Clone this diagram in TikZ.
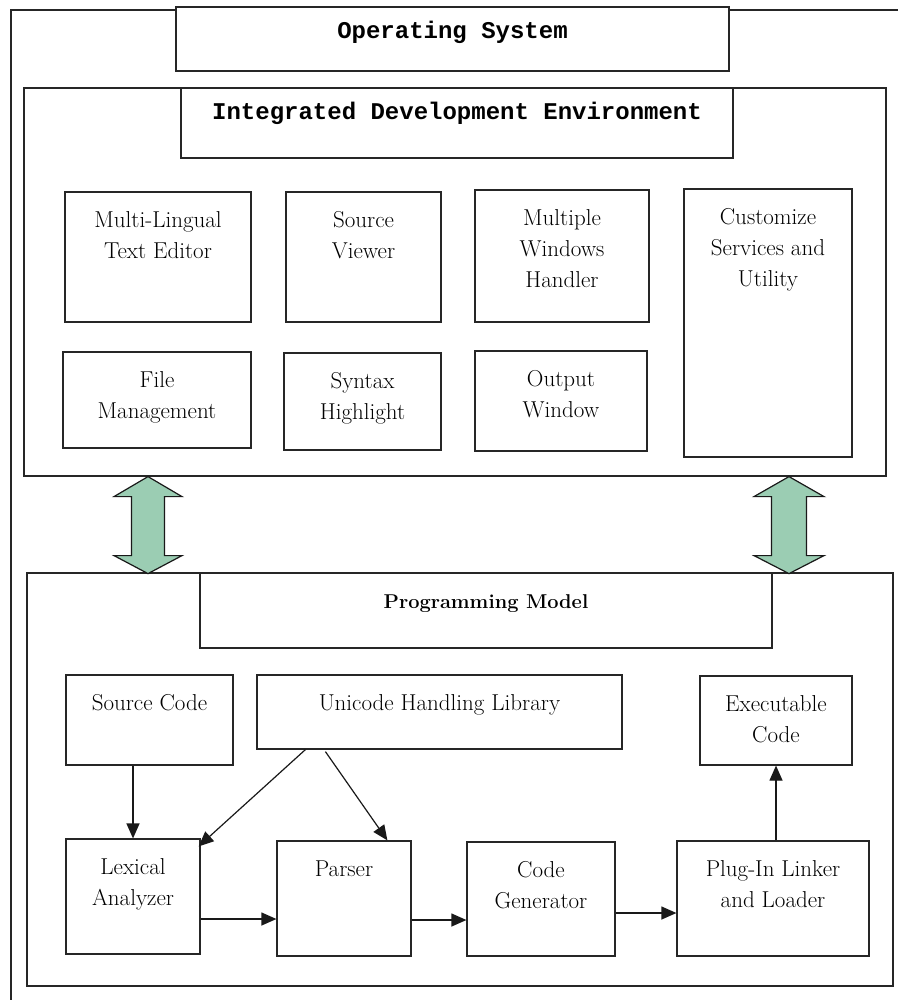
\documentclass[tikz,border=0pt]{standalone}
\usepackage{fontspec}
\newfontfamily\titlemono{Liberation Mono}
\usetikzlibrary{arrows.meta,calc}
\definecolor{arrowgreen}{HTML}{9BCDB3}
\begin{document}
\begin{tikzpicture}[x=1pt,y=-1pt,
  box/.style={draw=black!85,line width=1.2pt,fill=white,inner sep=0pt,rectangle},
  sz/.style 2 args={minimum width=#1pt,minimum height=#2pt},
  txt/.style={font=\fontsize{23}{31}\selectfont,align=center,inner sep=0pt,anchor=north},
  ttl/.style={font=\titlemono\bfseries\fontsize{24}{28}\selectfont,inner sep=0pt,anchor=base},
  pmttl/.style={font=\bfseries\fontsize{20}{24}\selectfont,inner sep=0pt,anchor=base},
  link/.style={line width=1.2pt,draw=black!90,-{Triangle[length=15pt,width=13pt]}},
  dbl/.style={draw=black!90,line width=1.2pt,fill=arrowgreen,line join=miter}]
\useasboundingbox (0,0) rectangle (898,1000);
% outer frame (cut off at right and bottom)
\draw[line width=1.2pt,black!85] (11,1000) -- (11,10) -- (898,10);

% Operating system
\node[box,sz={553}{64}] (os) at (452.5,39) {};
\node[ttl] (ost) at ([yshift=-32pt]os.north) {Operating System};

% IDE
\node[box,sz={862}{388}] (ide) at (455,282) {};
\node[box,sz={552}{70}] (idet) at (457,123) {};
\node[ttl] (idett) at ([yshift=-32pt]idet.north) {Integrated Development Environment};

\node[box,sz={186}{130}] (ml) at (158,257) {};
\node[txt] (mlt) at ([yshift=-20pt]ml.north) {Multi-Lingual\\Text Editor};
\node[box,sz={155}{130}] (sv) at (363.5,257) {};
\node[txt] (svt) at ([yshift=-20pt]sv.north) {Source\\Viewer};
\node[box,sz={174}{132}] (mw) at (562,256) {};
\node[txt] (mwt) at ([yshift=-20pt]mw.north) {Multiple\\Windows\\Handler};
\node[box,sz={168}{268}] (cs) at (768,323) {};
\node[txt] (cst) at ([yshift=-20pt]cs.north) {Customize\\Services and\\Utility};
\node[box,sz={188}{96}] (fm) at (157,400) {};
\node[txt] (fmt) at ([yshift=-20pt]fm.north) {File\\Management};
\node[box,sz={157}{97}] (sh) at (362.5,401.5) {};
\node[txt] (sht) at ([yshift=-20pt]sh.north) {Syntax\\Highlight};
\node[box,sz={172}{100}] (ow) at (561,401) {};
\node[txt] (owt) at ([yshift=-20pt]ow.north) {Output\\Window};

% Programming model
\node[box,sz={866}{413}] (pm) at (460,779.5) {};
\node[box,sz={572}{75}] (pmt) at (486,610.5) {};
\node[pmttl] (pmtt) at ([yshift=-36pt]pmt.north) {Programming Model};

\node[box,sz={167}{90}] (sc) at (149.5,720) {};
\node[txt] (sct) at ([yshift=-20pt]sc.north) {Source Code};
\node[box,sz={365}{74}] (ul) at (439.5,712) {};
\node[txt] (ult) at ([yshift=-20pt]ul.north) {Unicode Handling Library};
\node[box,sz={152}{89}] (ec) at (776,720.5) {};
\node[txt] (ect) at ([yshift=-20pt]ec.north) {Executable\\Code};
\node[box,sz={134}{115}] (la) at (133,896.5) {};
\node[txt] (lat) at ([yshift=-20pt]la.north) {Lexical\\Analyzer};
\node[box,sz={134}{115}] (pa) at (344,898.5) {};
\node[txt] (pat) at ([yshift=-20pt]pa.north) {Parser};
\node[box,sz={148}{114}] (cg) at (541,899) {};
\node[txt] (cgt) at ([yshift=-20pt]cg.north) {Code\\Generator};
\node[box,sz={192}{115}] (pl) at (773,898.5) {};
\node[txt] (plt) at ([yshift=-20pt]pl.north) {Plug-In Linker\\and Loader};

% connectors
\draw[link] (la.north |- sc.south) -- (la.north);
\draw[link] ([xshift=49pt]ul.south west) -- ([xshift=-2pt,yshift=-8pt]la.north east);
\draw[link] ([xshift=69pt,yshift=-2pt]ul.south west) -- ([xshift=111pt]pa.north west);
\draw[link] (la.east |- 0,919) -- (pa.west |- 0,919);
\draw[link] (pa.east |- 0,920) -- (cg.west |- 0,920);
\draw[link] (cg.east |- 0,913) -- (pl.west |- 0,913);
\draw[link] (ec.south |- pl.north) -- (ec.south);

% double arrows between IDE and programming model
\draw[dbl] (ide.south -| 148,0) -- ++(34,20) -- ++(-17.5,0) -- ++(0,59) -- ++(17.5,0)
  -- ++(-34,18) -- ++(-34,-18) -- ++(17.5,0) -- ++(0,-59) -- ++(-17.5,0) -- cycle;
\draw[dbl] (ide.south -| 789,0) -- ++(35,20) -- ++(-17.5,0) -- ++(0,59) -- ++(17.5,0)
  -- ++(-35,18) -- ++(-35,-18) -- ++(17.5,0) -- ++(0,-59) -- ++(-17.5,0) -- cycle;
\end{tikzpicture}
\end{document}
